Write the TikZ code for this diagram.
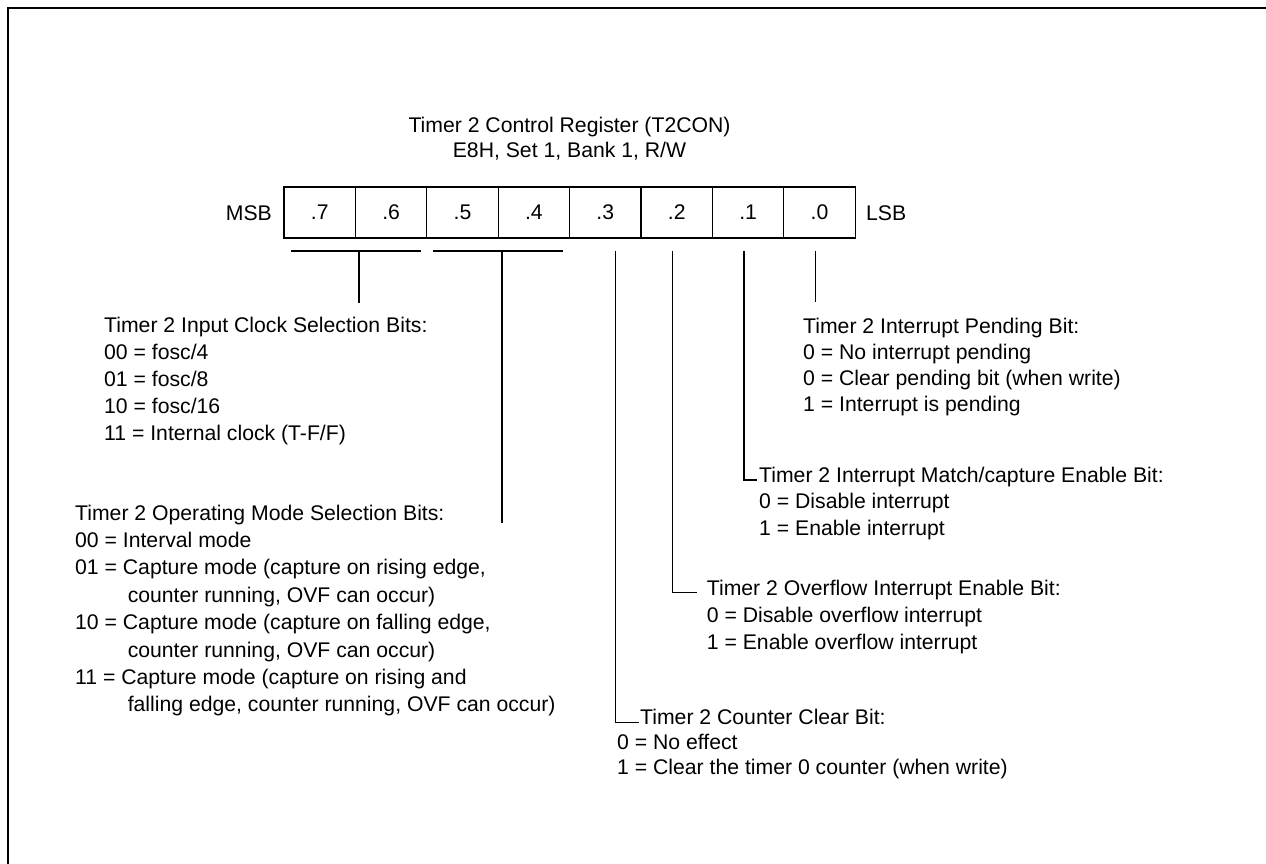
\documentclass[tikz,border=0pt]{standalone}
\usepackage{fontspec}
\setmainfont{Liberation Sans}
\begin{document}
\begin{tikzpicture}[x=1pt,y=-1pt,
  lbl/.style={font=\fontsize{21.2}{27.2}\selectfont, inner sep=0pt, anchor=base west, align=left},
  cell/.style={draw, line width=1.2pt, minimum width=71.4pt, minimum height=51pt, inner sep=0pt, font=\fontsize{21.2}{25}\selectfont},
  conn/.style={line width=1.2pt},
  frame/.style={line width=2pt}]
\useasboundingbox (0,0) rectangle (1266,864);
% outer frame (open at right and bottom)
\coordinate (fBL) at (8,866);
\coordinate (fTL) at (8,8);
\coordinate (fTR) at (1268,8);
\draw[frame] (fBL) -- (fTL) -- (fTR);
% title (anchor = baseline of last line)
\node[lbl, anchor=base, align=center, font=\fontsize{21.2}{24.7}\selectfont] (title) at (569.5,157.7)
  {Timer 2 Control Register (T2CON)\\E8H, Set 1, Bank 1, R/W};
% register cells
\node[cell] (b7) at (319.7,212.5) {.7};
\node[cell] (b6) at (391.1,212.5) {.6};
\node[cell] (b5) at (462.5,212.5) {.5};
\node[cell] (b4) at (533.9,212.5) {.4};
\node[cell] (b3) at (605.3,212.5) {.3};
\node[cell] (b2) at (676.7,212.5) {.2};
\node[cell] (b1) at (748.1,212.5) {.1};
\node[cell] (b0) at (819.5,212.5) {.0};
\node[lbl, anchor=base east] (msb) at (272,220) {MSB};
\node[lbl] (lsb) at (866,220) {LSB};
% labels (anchor = baseline of last line)
\node[lbl] (clk) at (104,440.8) {Timer 2 Input Clock Selection Bits:\\00 = fosc/4\\01 = fosc/8\\10 = fosc/16\\11 = Internal clock (T-F/F)};
\node[lbl, font=\fontsize{21.2}{27.4}\selectfont] (mode) at (75,711.8) {Timer 2 Operating Mode Selection Bits:\\00 = Interval mode\\01 = Capture mode (capture on rising edge,\\\hspace*{2.48em}counter running, OVF can occur)\\10 = Capture mode (capture on falling edge,\\\hspace*{2.48em}counter running, OVF can occur)\\11 = Capture mode (capture on rising and\\\hspace*{2.48em}falling edge, counter running, OVF can occur)};
\node[lbl, font=\fontsize{21.2}{26}\selectfont] (pend) at (803,411) {Timer 2 Interrupt Pending Bit:\\0 = No interrupt pending\\0 = Clear pending bit (when write)\\1 = Interrupt is pending};
\node[lbl, font=\fontsize{21.2}{26.5}\selectfont] (match) at (759,535) {Timer 2 Interrupt Match/capture Enable Bit:\\0 = Disable interrupt\\1 = Enable interrupt};
\node[lbl, font=\fontsize{21.2}{27}\selectfont] (ovf) at (706.7,649) {Timer 2 Overflow Interrupt Enable Bit:\\0 = Disable overflow interrupt\\1 = Enable overflow interrupt};
\node[lbl, font=\fontsize{21.2}{25}\selectfont] (clr) at (617,774) {\hspace*{23pt}Timer 2 Counter Clear Bit:\\0 = No effect\\1 = Clear the timer 0 counter (when write)};
% connector coordinates
\coordinate (h76a) at (291,251);
\coordinate (h76b) at (420.7,251);
\coordinate (t76) at (359,251);
\coordinate (e76) at (359,302.7);
\coordinate (h54a) at (433,251);
\coordinate (h54b) at (562.7,251);
\coordinate (t54) at (502,251);
\coordinate (e54) at (502,523);
\coordinate (t3) at (615.7,251);
\coordinate (e3) at (639,722.7);
\coordinate (t2) at (672.7,251);
\coordinate (e2) at (696.7,592.7);
\coordinate (t1) at (744,251);
\coordinate (e1) at (756.7,480);
\coordinate (t0) at (815.7,251);
\coordinate (e0) at (815.7,302);
% connectors
\draw[conn] (h76a) -- (h76b);
\draw[conn] (t76) -- (e76);
\draw[conn] (h54a) -- (h54b);
\draw[conn] (t54) -- (e54);
\draw[conn] (t3) |- (e3);
\draw[conn] (t2) |- (e2);
\draw[conn] (t1) |- (e1);
\draw[conn] (t0) -- (e0);
\end{tikzpicture}
\end{document}
